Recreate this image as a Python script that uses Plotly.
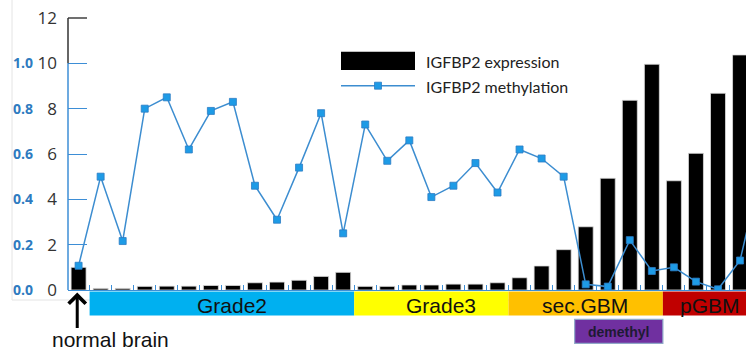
import plotly.graph_objects as go

# ---------------- data ----------------
sample_idx = list(range(31))            # 0 = normal brain, then tumour samples
expression = [1.0, 0.07, 0.07, 0.16, 0.17, 0.17, 0.2, 0.2, 0.32, 0.35, 0.43, 0.6, 0.78,
              0.16, 0.16, 0.22, 0.22, 0.26, 0.26, 0.32,
              0.54, 1.06, 1.78, 2.79, 4.93, 8.37, 9.96,
              4.82, 6.03, 8.68, 10.37]
meth_idx = list(range(32))              # line continues past the right edge
methylation = [0.107, 0.50, 0.216, 0.80, 0.85, 0.62, 0.79, 0.83, 0.46, 0.31, 0.54, 0.78, 0.25,
               0.73, 0.57, 0.66, 0.41, 0.46, 0.56, 0.43,
               0.62, 0.58, 0.50, 0.025, 0.015, 0.22, 0.084,
               0.10, 0.037, 0.003, 0.13, 0.55]

group_names = ["Grade2", "Grade3", "sec.GBM", "pGBM"]
group_first = [1, 13, 20, 27]
group_last = [12, 19, 26, 30]
demethyl_first, demethyl_last = 23, 26

expr_ticks = [0, 2, 4, 6, 8, 10, 12]
meth_ticks = [0.0, 0.2, 0.4, 0.6, 0.8, 1.0]
meth_tick_labels = ["0.0", "0.2", "0.4", "0.6", "0.8", "1.0"]

# ---------------- styles / layout helpers ----------------
group_colors = ["#00B0F0", "#FFFF00", "#FFC000", "#C00000"]
group_label_offset = [0.45, 0.45, -0.05, 0.15]
W, H = 746, 350
ML, MR, MT, MB = 68, 0, 18, 60
PW, PH = W - ML - MR, H - MT - MB
X0, X1 = -0.48, 30.27
Y0, Y1 = 0, 12
AX_BLUE = "#3D8ED6"


def xp(v):
    return (v - X0) / (X1 - X0)


def yp(v):
    return (v - Y0) / (Y1 - Y0)


def xpx(px):
    return (px - ML) / PW


def ypx(px):
    return (H - MB - px) / PH


fig = go.Figure()
fig.add_trace(go.Bar(x=sample_idx, y=expression, width=0.68,
                     marker=dict(color="black", line=dict(color="#dddddd", width=0.8)),
                     showlegend=False, name="IGFBP2 expression"))
fig.add_trace(go.Scatter(x=meth_idx, y=methylation, yaxis="y2", mode="lines+markers",
                         line=dict(color="#3C8DD0", width=1.5),
                         marker=dict(symbol="square", size=7, color="#1E9BE6",
                                     line=dict(color="#2C7CC4", width=0.8)),
                         showlegend=False, name="IGFBP2 methylation"))

shapes = []
annotations = []

# faint frame lines
shapes.append(dict(type="line", xref="paper", yref="paper", x0=xpx(12), x1=xpx(12),
                   y0=ypx(300), y1=ypx(0), line=dict(color="#e4e4e4", width=1)))
shapes.append(dict(type="line", xref="paper", yref="paper", x0=xpx(12), x1=1,
                   y0=ypx(300), y1=ypx(300), line=dict(color="#e4e4e4", width=1)))
# left axis line: blue 0 -> 10, black 10 -> 12, black tick at 12
shapes.append(dict(type="line", xref="paper", yref="paper", x0=0, x1=0, y0=yp(0), y1=yp(10),
                   line=dict(color=AX_BLUE, width=1.5)))
shapes.append(dict(type="line", xref="paper", yref="paper", x0=0, x1=0, y0=yp(10), y1=yp(12),
                   line=dict(color="#333333", width=1.5)))
shapes.append(dict(type="line", xref="paper", yref="paper", x0=0, x1=19 / PW, y0=yp(12), y1=yp(12),
                   line=dict(color="#333333", width=1.4)))

# group bands
for name, f, l, c, off in zip(group_names, group_first, group_last, group_colors, group_label_offset):
    shapes.append(dict(type="rect", xref="paper", yref="paper",
                       x0=xp(f - 0.5), x1=min(1, xp(l + 0.5)),
                       y0=ypx(315.5), y1=ypx(291.5),
                       fillcolor=c, line=dict(width=0), layer="above"))
    annotations.append(dict(x=xp((f + l) / 2 + off), y=ypx(305), xref="paper", yref="paper",
                            text=name, showarrow=False, xanchor="center", yanchor="middle",
                            font=dict(family="Liberation Sans", size=21, color="#111111")))

# demethyl box
shapes.append(dict(type="rect", xref="paper", yref="paper",
                   x0=xp(demethyl_first - 0.5), x1=xp(demethyl_last + 0.5),
                   y0=ypx(343.3), y1=ypx(319.3), fillcolor="#7030A0",
                   line=dict(color="#8FA8C8", width=1.2), layer="above"))
annotations.append(dict(x=xp((demethyl_first + demethyl_last) / 2), y=ypx(331.5),
                        xref="paper", yref="paper", text="<b>demethyl</b>", showarrow=False,
                        xanchor="center", yanchor="middle",
                        font=dict(family="Liberation Sans", size=14, color="#1E1A33")))

# normal brain arrow + label
annotations.append(dict(x=xp(0) - 0.002, y=ypx(292.5), xref="paper", yref="paper", text="",
                        showarrow=True, arrowhead=4, arrowsize=1.1, arrowwidth=3,
                        arrowcolor="black", ax=0, ay=37))
annotations.append(dict(x=xpx(110.7), y=ypx(339), xref="paper", yref="paper",
                        text="normal brain", showarrow=False,
                        xanchor="center", yanchor="middle",
                        font=dict(family="Liberation Sans", size=21, color="#111111")))

# legend (drawn manually)
shapes.append(dict(type="rect", xref="paper", yref="paper", x0=xpx(341), x1=xpx(415),
                   y0=ypx(70), y1=ypx(51.7), fillcolor="black", line=dict(width=0)))
shapes.append(dict(type="line", xref="paper", yref="paper", x0=xpx(341), x1=xpx(415),
                   y0=ypx(85.7), y1=ypx(85.7), line=dict(color="#3C8DD0", width=1.5)))
shapes.append(dict(type="rect", xref="paper", yref="paper", x0=xpx(374.5), x1=xpx(381.5),
                   y0=ypx(89.2), y1=ypx(82.2), fillcolor="#1E9BE6",
                   line=dict(color="#2C7CC4", width=0.8)))
for txt, yc in [("IGFBP2 expression", 61), ("IGFBP2 methylation", 86.5)]:
    annotations.append(dict(x=xpx(424), y=ypx(yc), xref="paper", yref="paper", text=txt,
                            showarrow=False, xanchor="left", yanchor="middle",
                            font=dict(family="Lato", size=16, color="#222222")))

fig.update_layout(
    width=W, height=H, margin=dict(l=ML, r=MR, t=MT, b=MB, autoexpand=False),
    paper_bgcolor="white", plot_bgcolor="white", bargap=0.3,
    xaxis=dict(range=[X0, X1], showline=True, linecolor=AX_BLUE, linewidth=1.3,
               tickvals=[i + 0.5 for i in range(31)], ticks="inside", ticklen=5,
               tickcolor=AX_BLUE, tickwidth=1, showticklabels=False,
               showgrid=False, zeroline=False),
    yaxis=dict(range=[Y0, Y1], tickvals=expr_ticks, ticks="inside", ticklen=19,
               tickcolor=AX_BLUE, tickwidth=1.3, showline=False,
               showgrid=False, zeroline=False, ticklabelstandoff=10,
               tickfont=dict(family="Open Sans", size=17, color="#333333")),
    yaxis2=dict(range=[0, 1.2], overlaying="y", anchor="free", position=0, side="left",
                tickvals=meth_ticks, ticktext=meth_tick_labels, ticks="", showline=False,
                showgrid=False, zeroline=False, ticklabelstandoff=35,
                tickfont=dict(family="Open Sans", size=14, color="#2E7BC0", weight="bold")),
    shapes=shapes, annotations=annotations,
)

fig.write_html("out.html", config={"displayModeBar": False},
               post_script="document.body.style.margin='0px';document.body.style.padding='0px';")
